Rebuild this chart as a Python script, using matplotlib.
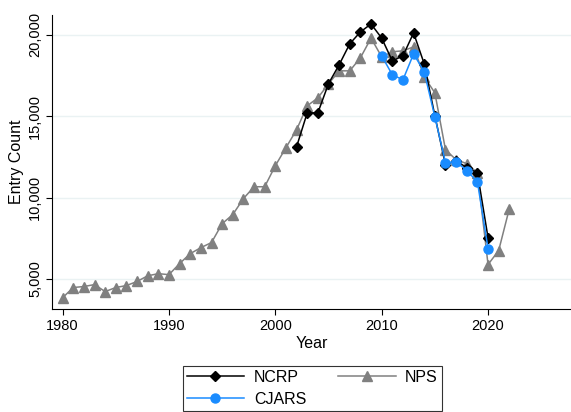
import matplotlib.pyplot as plt

plt.rcParams['font.family'] = ['Liberation Sans', 'DejaVu Sans']

# NPS series (1980-2022)
nps_years = list(range(1980, 2023))
nps_counts = [3850, 4480, 4540, 4660, 4230, 4480, 4600, 4850, 5200, 5330,
              5270, 5950, 6560, 6930, 7240, 8400, 8960, 9940, 10670, 10670,
              11960, 13070, 14170, 15640, 16130, 16990, 17790, 17790, 18590, 19800,
              18650, 18960, 19020, 19260, 17420, 16440, 12940, 12330, 12090, 11530,
              5890, 6750, 9320]

# NCRP series (2002-2020)
ncrp_years = list(range(2002, 2021))
ncrp_counts = [13130, 15210, 15210, 17000, 18160, 19450, 20180, 20670, 19800, 18400,
               18710, 20120, 18220, 15030, 12020, 12270, 11840, 11530, 7540]

# CJARS series (2010-2020)
cjars_years = list(range(2010, 2021))
cjars_counts = [18710, 17550, 17240, 18830, 17730, 14970, 12150, 12210, 11660, 10980, 6870]

fig = plt.figure(figsize=(5.71, 4.12), dpi=100)
ax = fig.add_axes([0.091, 0.25, 0.909, 0.714])

l_nps, = ax.plot(nps_years, nps_counts, color='#808080', marker='^', markersize=7,
                 linewidth=1.1, label='NPS', zorder=2)
l_ncrp, = ax.plot(ncrp_years, ncrp_counts, color='black', marker='D', markersize=5.5,
                  linewidth=1.1, label='NCRP', zorder=3)
l_cj, = ax.plot(cjars_years, cjars_counts, color='#1a8cff', marker='o', markersize=6.5,
                linewidth=1.1, label='CJARS', zorder=4)

ax.set_xlim(1979.0, 2027.8)
ax.set_ylim(3160, 21230)
ax.set_xticks([1980, 1990, 2000, 2010, 2020])
ax.set_yticks([5000, 10000, 15000, 20000])
ax.set_yticklabels(['5,000', '10,000', '15,000', '20,000'], rotation=90, va='center')
ax.tick_params(labelsize=10.5, length=4, direction='out', pad=3)
ax.grid(axis='y', color='#eaf2f3', linewidth=1)
ax.set_axisbelow(True)
for s in ['top', 'right']:
    ax.spines[s].set_visible(False)
ax.set_xlabel('Year', fontsize=11.5, labelpad=2)
ax.set_ylabel('Entry Count', fontsize=11.5, labelpad=3)

leg = fig.legend(handles=[l_ncrp, l_cj, l_nps], ncol=2, loc='upper center',
                 bbox_to_anchor=(0.547, 0.112), fontsize=11.5, frameon=True,
                 fancybox=False, edgecolor='black', handlelength=3.6,
                 columnspacing=2.0, borderpad=0.25, labelspacing=0.45,
                 borderaxespad=0, handletextpad=0.6)
leg.get_frame().set_linewidth(0.8)

fig.savefig('out.png', dpi=100)
